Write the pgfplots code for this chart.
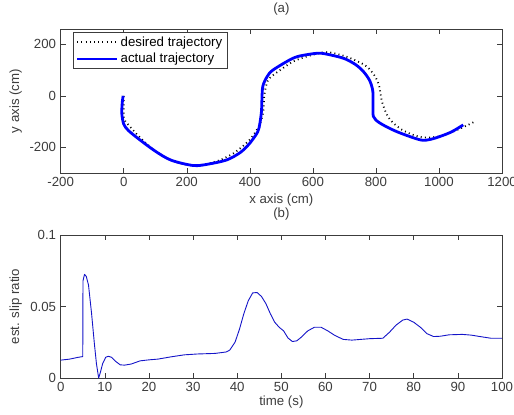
\documentclass[border=0pt]{standalone}
\usepackage{pgfplots}
\pgfplotsset{compat=1.18}
\usepackage{fontspec}
\setmainfont{Liberation Sans}
\definecolor{axgray}{RGB}{60,60,60}
\definecolor{mblue}{RGB}{0,0,255}
\definecolor{tblue}{RGB}{20,20,200}
\begin{document}
\fontsize{13.3}{15}\selectfont
\begin{tikzpicture}
\pgfplotsset{
  every axis/.append style={
    scale only axis,
    width=441.3bp,
    axis line style={axgray, line width=0.5bp},
    tick style={axgray, line width=0.5bp},
    major tick length=5bp,
    tick pos=both,
    tick align=inside,
    /pgf/number format/assume math mode=true,
    /pgf/number format/1000 sep={},
    tick label style={font=\fontsize{13.3}{15}\selectfont, text=axgray},
    label style={font=\fontsize{13.3}{15}\selectfont, text=axgray},
    title style={font=\fontsize{13.3}{15}\selectfont, text=axgray},
  }
}
% ---------- (a) ----------
\begin{axis}[
  at={(60.7bp,-173bp)}, anchor=south west,
  height=144bp,
  xmin=-200, xmax=1200, ymin=-300, ymax=260,
  xtick={-200,0,200,400,600,800,1000,1200},
  ytick={-200,0,200},
  xlabel={x axis (cm)},
  ylabel={y axis (cm)},
  title={(a)},
  xlabel style={at={(axis description cs:0.5,-0.19)}, anchor=center},
  ylabel style={at={(axis description cs:-0.102,0.5)}, anchor=center},
  title style={at={(axis description cs:0.5,1.097)}, anchor=center},
  legend style={at={(0.027,0.977)}, anchor=north west, draw=axgray, line width=0.5bp,
    font=\fontsize{13.3}{15}\selectfont, inner xsep=3bp, inner ysep=2bp, row sep=1bp},
  legend cell align=left,
  legend image code/.code={\draw[#1] (0bp,0bp) -- (40bp,0bp);},
]
\addplot[black, line width=1.8bp, dash pattern=on 1bp off 3.2bp, smooth, tension=0.5] coordinates {
(0,0) (0,-50) (1,-90) (20,-120) (50,-160) (100,-215) (150,-250) (200,-268) (250,-268)
(300,-252) (350,-222) (400,-170) (430,-115) (443,-60) (445,-10) (450,30) (460,65)
(490,95) (540,135) (600,160) (645,170) (700,155) (740,135) (771,114) (795,80)
(810,40) (818,-16) (830,-60) (845,-93) (880,-130) (919,-152) (950,-162) (1000,-158)
(1045,-139) (1080,-120) (1114,-100)
};
\addlegendentry{desired trajectory}
\addplot[mblue, line width=2.8bp, line join=round, smooth, tension=0.5] coordinates {
(-2,0) (-5,-30) (-6,-70) (0,-110) (15,-135) (50,-170) (100,-215) (150,-250) (221,-271)
(270,-265) (327,-249) (370,-220) (400,-184) (425,-140) (432,-106) (437,-60) (438,-28)
(441,36) (455,75) (474,101) (538,147) (580,160) (622,166) (660,158) (700,145)
(735,122) (760,95) (780,60) (790,20) (791,-30) (792,-80) (813,-106) (866,-139)
(940,-171) (970,-170) (1003,-158) (1040,-140) (1077,-113)
};
\addlegendentry{actual trajectory}
\end{axis}
% ---------- (b) ----------
\begin{axis}[
  at={(60.7bp,-378bp)}, anchor=south west,
  height=143bp,
  xmin=0, xmax=100, ymin=0, ymax=0.1,
  xtick={0,10,...,100},
  ytick={0,0.05,0.1},
  yticklabels={0,0.05,0.1},
  scaled y ticks=false,
  xlabel={time (s)},
  ylabel={est. slip ratio},
  title={(b)},
  xlabel style={at={(axis description cs:0.5,-0.168)}, anchor=center},
  ylabel style={at={(axis description cs:-0.102,0.5)}, anchor=center},
  title style={at={(axis description cs:0.5,1.105)}, anchor=center},
]
\addplot[tblue, line width=0.9bp, line join=round] coordinates {
(0,0.0125) (2,0.0132) (4,0.0145) (5,0.0150) (5.05,0.068) (5.4,0.0725) (5.8,0.071)
(6.3,0.065) (7,0.045) (7.6,0.025) (8.1,0.010) (8.6,0.000) (9.0,0.004) (9.5,0.010)
(10.2,0.0145) (10.8,0.0152) (11.5,0.0145) (12.5,0.0115) (13.5,0.0092) (14.5,0.0090)
(16,0.0098) (18,0.0120) (20,0.0127) (22,0.0132) (25,0.0148) (28,0.0162) (31,0.0168)
(35,0.0172) (37.5,0.0182) (38.3,0.0195) (39.5,0.025) (40.5,0.034) (41.5,0.045)
(42.5,0.054) (43.5,0.0595) (44.5,0.0598) (45.5,0.057) (46.5,0.052) (47.5,0.045)
(48.5,0.039) (49.5,0.0355) (50.5,0.033) (51.5,0.028) (52.5,0.0255) (53.5,0.026)
(54.5,0.0285) (56,0.033) (57.5,0.0355) (59,0.0355) (60.5,0.033) (62,0.030) (64,0.027)
(66,0.0265) (68,0.027) (70,0.0275) (73,0.0278) (74.5,0.032) (76,0.037) (77.5,0.0405)
(78.5,0.0412) (80,0.039) (81.5,0.0355) (83,0.031) (84.5,0.029) (86,0.0292) (88,0.0302)
(91,0.0305) (93,0.030) (95,0.029) (97.5,0.0278) (100,0.0278)
};
\end{axis}
\pgfresetboundingbox
\path[use as bounding box] (0bp,0bp) rectangle (514bp,-415bp);
\end{tikzpicture}
\end{document}
